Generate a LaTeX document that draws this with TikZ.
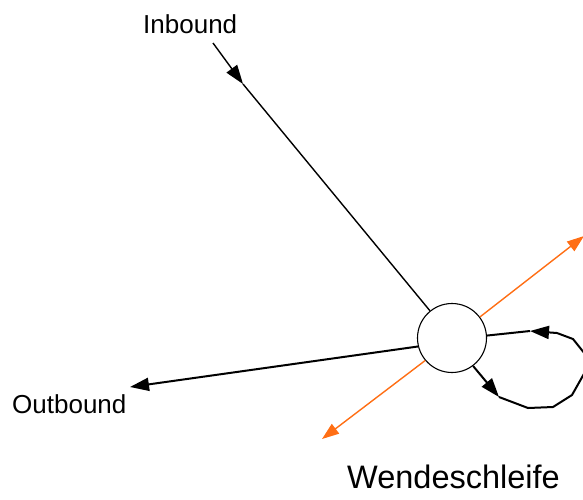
\documentclass[tikz,border=0pt]{standalone}
\usepackage{fontspec}
\setmainfont{Liberation Sans}
\usetikzlibrary{arrows.meta}
\definecolor{flow}{RGB}{255,110,20}
\tikzset{
  x=1pt, y=-1pt,
  tip/.style={-{Triangle[length=19pt,width=13pt]}},
  link/.style={line width=1.4pt, black},
  heavy/.style={line width=2pt, black, line join=bevel},
  side/.style={line width=1.4pt, flow, -{Triangle[length=17pt,width=12pt]}},
  label/.style={inner sep=0pt, anchor=base west, font=\fontsize{26}{30}\selectfont},
}
\begin{document}
\begin{tikzpicture}
  \useasboundingbox (0,0) rectangle (583,499);

  % junction
  \node[circle, draw, line width=1.1pt, minimum size=69pt, inner sep=0pt] (hub) at (452,338) {};

  % labels
  \node[label] (inl) at (143,33) {Inbound};
  \node[label] (outl) at (12,413) {Outbound};
  \node[label, font=\fontsize{32.5}{38}\selectfont] (loopl) at (347,488) {Wendeschleife};

  % inbound track
  \coordinate (ib) at (213,43);
  \coordinate (ibm) at (243,84);
  \draw[link, tip] (ib) -- (ibm);
  \draw[link] (ibm) -- (hub.129);

  % outbound track
  \coordinate (ob) at (130,387);
  \draw[heavy, tip] (hub.194) -- (ob);

  % side branches
  \coordinate (ne) at (584,236);
  \coordinate (sw) at (322,439);
  \draw[side] (hub.37) -- (ne);
  \draw[side] (hub.220) -- (sw);

  % turning loop
  \coordinate (l1) at (499,397);
  \coordinate (l2) at (528,408);
  \coordinate (l3) at (553,407);
  \coordinate (l4) at (572,395);
  \coordinate (l5) at (585,372);
  \coordinate (l6) at (585,354);
  \coordinate (l7) at (573,339);
  \coordinate (l8) at (557,333);
  \coordinate (l9) at (530,331);
  \draw[heavy, tip] (hub.307) -- (l1);
  \draw[heavy] (l1) -- (l2) -- (l3) -- (l4) -- (l5) -- (l6) -- (l7) -- (l8);
  \draw[heavy, tip] (l8) -- (l9);
  \draw[heavy] (l9) -- (hub.4);
\end{tikzpicture}
\end{document}
